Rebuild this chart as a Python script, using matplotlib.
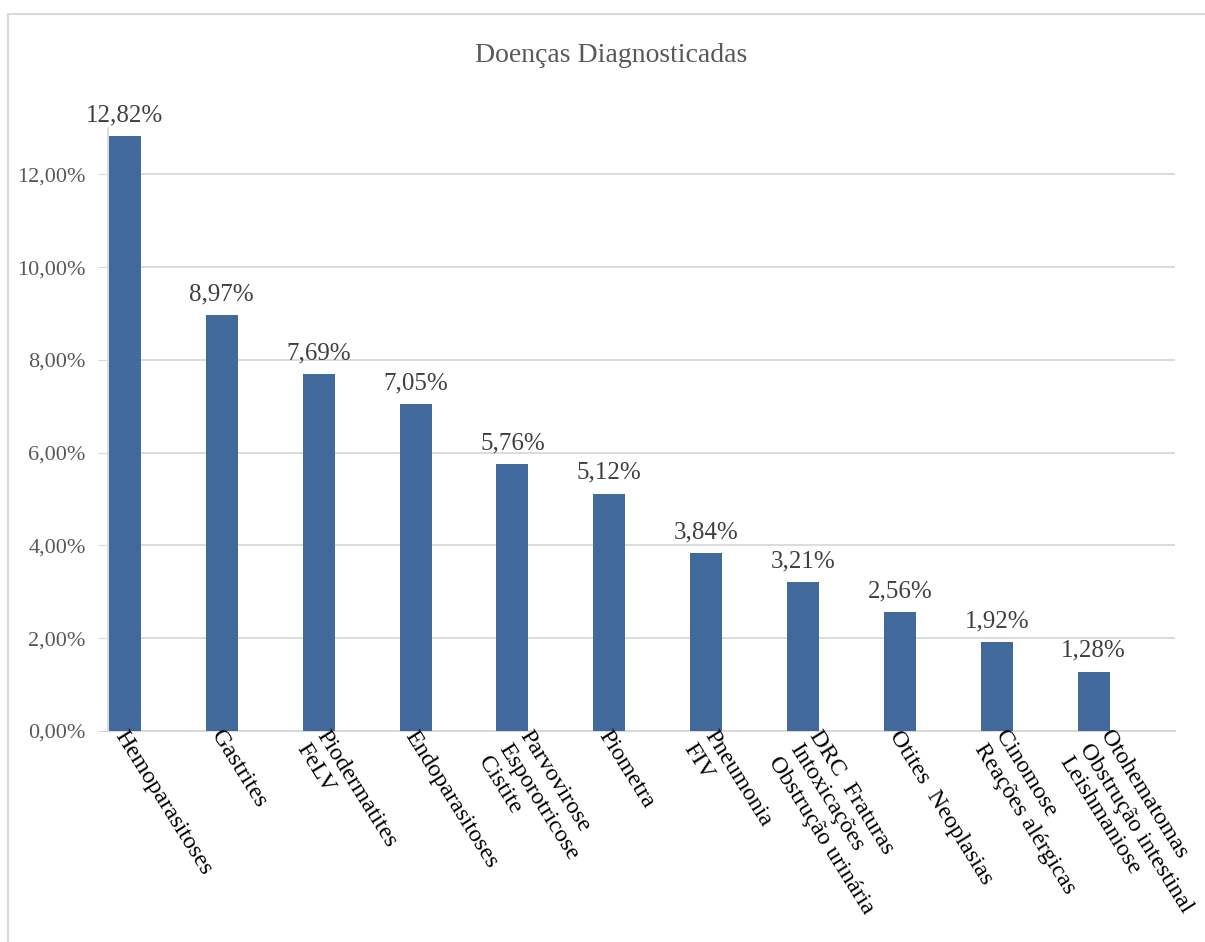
import matplotlib.pyplot as plt
import matplotlib.transforms as mtransforms
from matplotlib.patches import Rectangle
from matplotlib.ticker import FuncFormatter

plt.rcParams['font.family'] = ['Liberation Serif', 'DejaVu Serif']

# Dados do grafico
categorias = [
    "Hemoparasitoses",
    "Gastrites",
    "Piodermatites\nFeLV",
    "Endoparasitoses",
    "Parvovirose\nEsporotricose\nCistite",
    "Piometra",
    "Pneumonia\nFIV",
    "DRC  Fraturas\nIntoxicações\nObstrução urinária",
    "Otites  Neoplasias",
    "Cinomose\nReações alérgicas",
    "Otohematomas\nObstrução intestinal\nLeishmaniose",
]
percentuais = [12.82, 8.97, 7.69, 7.05, 5.76, 5.12, 3.84, 3.21, 2.56, 1.92, 1.28]
yticks = [0, 2, 4, 6, 8, 10, 12]

cor_barra = "#41699B"
cor_grade = "#d9d9d9"
cinza = "#595959"


def fmt_pct(v, pos=None):
    return f"{v:.2f}%".replace(".", ",")


fig = plt.figure(figsize=(12.05, 9.42), dpi=100)
ax = fig.add_axes([0.0896, 0.224, 0.8855, 0.640])

x = list(range(len(categorias)))
bars = ax.bar(x, percentuais, width=0.33, color=cor_barra, zorder=3)

ax.set_xlim(-0.175, 10.84)
ax.set_ylim(0, 13)
ax.set_yticks(yticks)
ax.yaxis.set_major_formatter(FuncFormatter(fmt_pct))
ax.tick_params(axis="y", length=7, color=cor_grade, labelcolor=cinza, labelsize=16, pad=9)
ax.set_xticks([])

ax.yaxis.grid(True, color=cor_grade, linewidth=1.3)
ax.set_axisbelow(True)
for s in ["top", "right"]:
    ax.spines[s].set_visible(False)
ax.spines["left"].set_color(cor_grade)
ax.spines["bottom"].set_color(cor_grade)
ax.spines["left"].set_linewidth(1.3)
ax.spines["bottom"].set_linewidth(1.5)

# Rotulos de dados
for b, v in zip(bars, percentuais):
    ax.annotate(fmt_pct(v), (b.get_x() + b.get_width() / 2, v),
                xytext=(0, 7), textcoords="offset points",
                ha="center", va="bottom", fontsize=18, color="#404040",
                annotation_clip=False)

# Rotulos das categorias (inclinados)
base = ax.get_xaxis_transform()
for i, lab in enumerate(categorias):
    n = lab.count("\n") + 1
    dx = (3 + 8.5 * (n - 1)) / 100
    off = mtransforms.ScaledTranslation(dx, 4 / 100, fig.dpi_scale_trans)
    ax.text(i, 0, lab, transform=base + off, rotation=-58, rotation_mode="anchor",
            ha="left", va="top", fontsize=17.5, color="black",
            multialignment="left", linespacing=1.2, clip_on=False)

fig.text(611 / 1205, 1 - 55 / 942, "Doenças Diagnosticadas", ha="center", va="center",
         fontsize=20, color=cinza)

# Borda da area do grafico
fig.patches.append(Rectangle((8 / 1205, -0.1), 1.2, 1 - 14 / 942 + 0.1,
                             transform=fig.transFigure, fill=False,
                             edgecolor=cor_grade, linewidth=1.5))

fig.savefig("out.png", dpi=100)
